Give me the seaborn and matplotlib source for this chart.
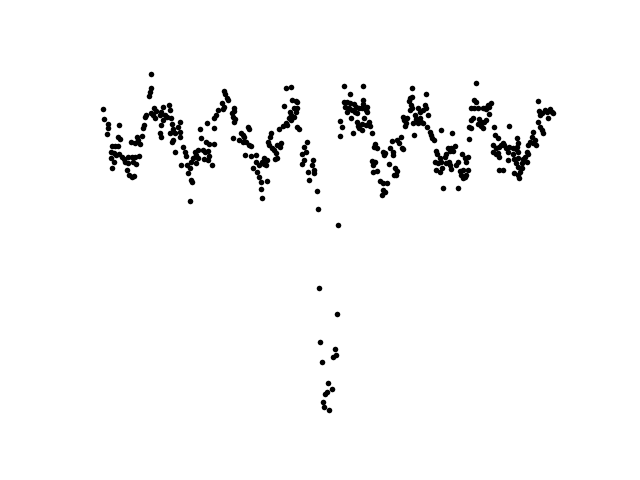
import matplotlib
matplotlib.use("Agg")
import matplotlib.pyplot as plt
import seaborn as sns
import pandas as pd

# Light-curve samples (arbitrary time / flux units)
time_a = [103,104,108,108,107,119,146,145,144,143,142,118,120,137,138,135,140,131,112,115,118,111,114,116,119,122,124,111,114,112,128,132,135,139,125,128,133,136,127,129,132,134]
flux_a = [391,381,376,372,366,375,385,383,375,372,364,363,361,363,360,357,356,358,354,354,354,348,347,345,346,343,341,342,338,332,343,343,343,344,338,337,338,336,330,325,323,324]

time_b = [151,151,150,149,154,156,151,163,161,160,165,169,170,167,155,153,163,161,160,161,171,172,173,175,180,178,180,180,170,173,172,183,185,186,175,200,201,198,195,196,193,198,191,196,181,187,190,188,191,192,190]
flux_b = [426,412,408,404,392,389,387,393,388,385,385,395,390,383,382,385,380,375,367,363,382,376,371,367,378,373,368,363,367,360,358,353,348,344,348,371,362,350,348,345,342,342,338,337,335,335,332,327,320,318,299]

time_c = [224,225,227,228,222,224,223,218,216,214,234,234,232,233,235,234,207,214,248,249,241,243,244,239,243,246,233,206,209,214,249,251,203,205,208,209,245,251,204,208,212,253]
flux_c = [409,406,402,400,397,393,391,390,385,382,392,389,387,383,381,378,377,372,373,371,367,365,363,360,358,358,362,358,356,356,355,354,350,348,349,344,345,344,341,340,335,332]

time_d = [286,291,292,296,297,284,294,297,290,296,291,294,289,291,286,287,283,279,297,299,271,270,307,304,306,302,304,268,269,272,274,277,281,280,276,277,275,256,256,259,264,267,262,264,266,302,257,259,261,267,261,262,308,309,313,312,314,314]
flux_d = [412,413,400,399,398,394,392,392,388,388,385,383,382,380,377,375,374,371,373,371,367,363,358,353,348,346,340,358,355,352,350,355,357,353,347,342,341,345,338,335,342,340,338,336,335,336,328,323,318,319,311,302,328,320,340,335,330,327]

time_e = [317,318,338,319,337,320,335,333,336,322,328,332,327,325,323,324,329]
flux_e = [309,291,275,212,186,158,151,143,145,138,117,111,108,106,98,93,90]

time_f = [344,350,344,347,350,354,356,359,345,349,352,355,357,347,351,357,358,359,340,342,340,353]
flux_f = [414,406,398,398,397,396,393,392,393,392,390,388,387,388,382,378,374,372,379,373,364,367]

time_g = [363,363,363,362,367,366,367,364,362,366,369,370,362,372,412,410,412,409,411,412,410,403,407,404,406,405,413,414,375,374,377,401,397,399,402,403,392,390,393,393,383,384,385,372,375,373,389,395,397,394,396,373,377,380,383,387,383,385,382]
flux_g = [414,400,396,392,393,390,388,382,376,375,378,374,370,367,412,402,403,399,395,392,390,383,382,380,377,374,377,365,356,353,352,363,360,357,352,351,359,352,348,345,348,345,347,339,338,335,336,332,329,325,325,328,329,319,317,317,310,308,305]

time_h = [426,425,426,423,418,420,428,415,416,420,421,423,418,427,430,431,432,434,441,452,436,437,435,438,448,451,455,450,453,446,462,465,466,440,441,445,446,449,450,456,458,436,440,442,451,460,463,461,465,463,466,443,458]
flux_h = [406,395,392,390,392,388,385,385,381,382,378,377,377,373,368,365,362,360,370,367,349,346,338,337,352,352,354,349,349,346,346,342,338,342,338,343,337,338,335,335,338,330,328,332,331,329,330,325,323,322,325,312,312]

time_i = [476,474,476,471,474,478,483,485,488,491,489,486,471,473,479,481,484,486,489,469,471,478,481,483,494,509,469,495,498,493,496,499,501,503,504,506,509,513,516,518,508,493,496,499,498,513,508,514,468,468,499,503,516,518,514,518,519]
flux_i = [417,400,398,392,392,392,392,392,395,397,393,391,380,382,381,378,378,380,386,373,372,376,374,372,373,374,361,365,362,355,352,353,355,357,355,352,353,352,351,348,348,348,346,343,347,346,340,341,343,330,330,330,337,333,327,325,322]

time_j = [538,539,542,540,545,547,550,552,553,548,538,540,542,543,533,532,530,528,535,533,536,517,518,517,527,528,525,523,527,522,518,522,520]
flux_j = [399,389,387,385,390,388,391,388,387,382,378,373,370,367,368,363,358,355,360,357,355,362,357,353,348,346,343,341,338,337,342,332,328]

times = time_a + time_b + time_c + time_d + time_e + time_f + time_g + time_h + time_i + time_j
fluxes = flux_a + flux_b + flux_c + flux_d + flux_e + flux_f + flux_g + flux_h + flux_i + flux_j
df = pd.DataFrame({"time": times, "flux": fluxes})

fig, ax = plt.subplots(figsize=(6.4, 4.8), dpi=100)
sns.scatterplot(data=df, x="time", y="flux", color="black", s=16, linewidth=0, ax=ax)
ax.axis("off")
fig.savefig("out.png", dpi=100)
